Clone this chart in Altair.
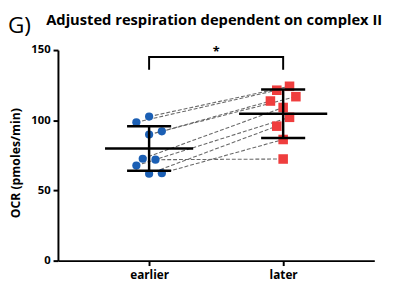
import altair as alt
import pandas as pd

groups = ["earlier", "later"]
# paired measurements (same index = same sample)
earlier_vals = [102.6, 98.6, 92.1, 89.8, 72.6, 71.9, 67.7, 62.3, 61.9]
later_vals = [124.2, 121.4, 113.7, 116.8, 109.1, 72.4, 102.1, 86.3, 95.8]
# horizontal scatter slot of each point (in point-widths)
earlier_slot = [0, -1, 1, 0, -0.5, 0.5, -1, 1, 0]
later_slot = [0.5, -0.5, -1, 1, 0, 0, 0.5, 0, -0.5]
bracket_pos = [1, 1, 2, 2]
bracket_val = [136, 145, 145, 136]
title_text = "Adjusted respiration dependent on complex II"
panel_text = "G)"

rows = []
for i, (a, b) in enumerate(zip(earlier_vals, later_vals)):
    rows.append({"pair": i, "group": groups[0], "pos": 1, "slot": earlier_slot[i], "value": a})
    rows.append({"pair": i, "group": groups[1], "pos": 2, "slot": later_slot[i], "value": b})
df = pd.DataFrame(rows)

FONT = "Open Sans"
xscale = alt.Scale(domain=[0.32, 2.68])
yscale = alt.Scale(domain=[0, 150])

base = alt.Chart(df).transform_calculate(xj="datum.pos + datum.slot * 0.095")

xaxis = alt.Axis(values=[1, 2], labelExpr=f"datum.value == 1 ? '{groups[0]}' : '{groups[1]}'",
                 title=None, grid=False, labelFont=FONT, labelFontWeight="bold", labelFontSize=12,
                 labelColor="black", tickSize=5, tickWidth=2, tickColor="black",
                 domainColor="black", domainWidth=2, labelPadding=4)
yaxis = alt.Axis(values=[0, 50, 100, 150], title="OCR (pmoles/min)", grid=False,
                 labelFont=FONT, labelFontWeight="bold", labelFontSize=11.5, labelColor="black",
                 tickSize=5, tickWidth=2, tickColor="black", domainColor="black", domainWidth=2,
                 labelPadding=3, titleFont=FONT, titleFontWeight="bold", titleFontSize=12.5,
                 titleColor="black", titleAngle=270, titleX=-43, titleY=115,
                 titleAlign="center", titleBaseline="middle")

lines = base.mark_line(color="#6a6a6a", strokeDash=[4, 2], strokeWidth=1.1).encode(
    x=alt.X("xj:Q", scale=xscale, axis=xaxis),
    y=alt.Y("value:Q", scale=yscale, axis=yaxis),
    detail="pair:N",
)

pts_e = base.transform_filter("datum.pos == 1").mark_point(
    shape="circle", filled=True, size=70, color="#1B5FB4", opacity=1).encode(
    x=alt.X("xj:Q", scale=xscale), y=alt.Y("value:Q", scale=yscale))
pts_l = base.transform_filter("datum.pos == 2").mark_point(
    shape="square", filled=True, size=95, color="#EF3E3E", opacity=1).encode(
    x=alt.X("xj:Q", scale=xscale), y=alt.Y("value:Q", scale=yscale))

summ = alt.Chart(df).transform_aggregate(
    m="mean(value)", s="stdev(value)", groupby=["pos"]
).transform_calculate(lo="datum.m - datum.s", hi="datum.m + datum.s")

mean_tick = summ.mark_tick(orient="horizontal", size=90, thickness=2.5, color="black", opacity=1).encode(
    x=alt.X("pos:Q", scale=xscale), y=alt.Y("m:Q", scale=yscale))
err_rule = summ.mark_rule(strokeWidth=2.5, color="black", opacity=1).encode(
    x=alt.X("pos:Q", scale=xscale), y=alt.Y("lo:Q", scale=yscale), y2="hi:Q")
cap_hi = summ.mark_tick(orient="horizontal", size=45, thickness=2.5, color="black", opacity=1).encode(
    x=alt.X("pos:Q", scale=xscale), y=alt.Y("hi:Q", scale=yscale))
cap_lo = summ.mark_tick(orient="horizontal", size=45, thickness=2.5, color="black", opacity=1).encode(
    x=alt.X("pos:Q", scale=xscale), y=alt.Y("lo:Q", scale=yscale))

bdf = pd.DataFrame({"bx": bracket_pos, "by": bracket_val, "o": list(range(len(bracket_pos)))})
bracket = alt.Chart(bdf).mark_line(color="black", strokeWidth=2, strokeJoin="miter").encode(
    x=alt.X("bx:Q", scale=xscale), y=alt.Y("by:Q", scale=yscale), order="o:Q")
star = alt.Chart(pd.DataFrame({"t": ["*"], "sx": [1.5], "sy": [146]})).mark_text(
    font=FONT, fontSize=13, fontWeight="bold", color="black", baseline="alphabetic").encode(
    x=alt.X("sx:Q", scale=xscale), y=alt.Y("sy:Q", scale=yscale), text="t:N")

title = alt.Chart(pd.DataFrame({"t": [title_text]})).mark_text(
    font=FONT, fontSize=15, fontWeight="bold", color="black", align="left", baseline="alphabetic").encode(
    x=alt.value(-12), y=alt.value(-26), text="t:N")
panel = alt.Chart(pd.DataFrame({"t": [panel_text]})).mark_text(
    font=FONT, fontSize=23, color="black", align="left", baseline="alphabetic").encode(
    x=alt.value(-51), y=alt.value(-17), text="t:N")

chart = alt.layer(lines, pts_e, pts_l, err_rule, mean_tick, cap_hi, cap_lo, bracket, star, title, panel).properties(
    width=323, height=215,
    padding={"left": 51, "top": 40, "right": 15, "bottom": 26},
    autosize=alt.AutoSizeParams(type="none"),
).configure_view(stroke=None)

chart.save("out.html", embed_options={"renderer": "svg", "actions": False})
